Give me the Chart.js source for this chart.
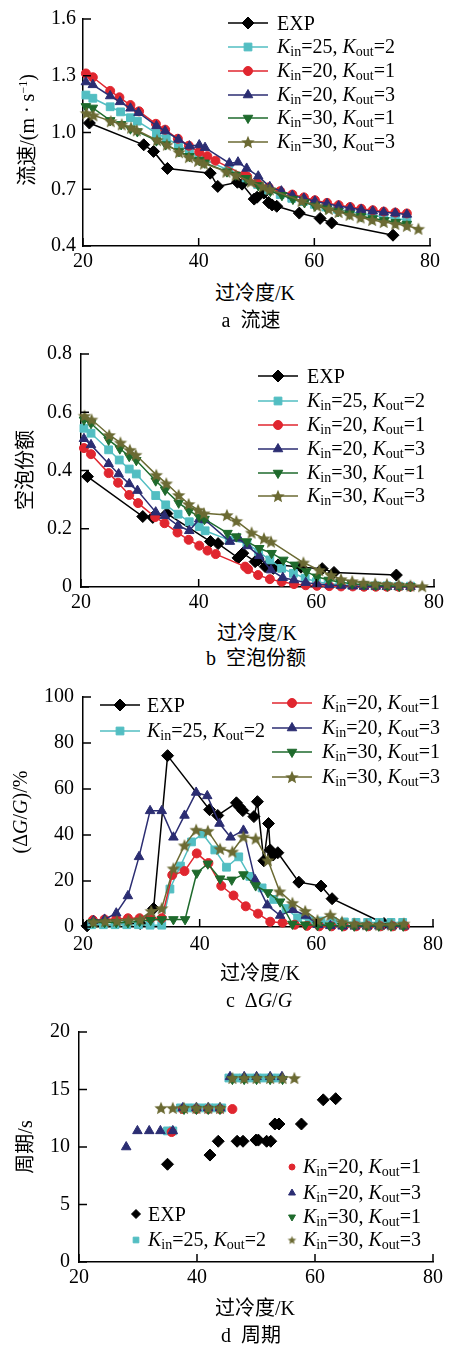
<!DOCTYPE html>
<html lang="zh">
<head>
<meta charset="utf-8">
<title>过冷度</title>
<script src="https://cdn.jsdelivr.net/npm/chart.js@4.4.1/dist/chart.umd.min.js"></script>
<style>
  html, body { margin: 0; padding: 0; background: #fff; }
  body { position: relative; width: 449px; height: 1347px; overflow: hidden;
         font-family: "Liberation Serif", "Noto Sans CJK SC", serif; color: #000; }
  canvas { position: absolute; left: 0; }
  .txt { position: absolute; font-size: 20px; line-height: 1; white-space: nowrap; transform: translate(-50%, -50%); }
  .ytl { transform: translate(-50%, -50%) rotate(-90deg); }
  .leg { position: absolute; font-size: 20px; line-height: 20px; white-space: nowrap; transform: translateY(-50%); }
  .leg .s { font-size: 14px; position: relative; top: 3px; }
  sup { font-size: 12px; }
</style>
</head>
<body>
<canvas id="ca" width="449" height="280" style="top:0px"></canvas>
<canvas id="cb" width="449" height="290" style="top:330px"></canvas>
<canvas id="cc" width="449" height="300" style="top:670px"></canvas>
<canvas id="cd" width="449" height="290" style="top:1010px"></canvas>

<div class="txt ytl" style="left:27px;top:130px">流速/(m · s<sup>−1</sup>)</div>
<div class="txt" style="left:255px;top:293px">过冷度/K</div>
<div class="txt" style="left:251px;top:320px">a&ensp;流速</div>

<div class="txt ytl" style="left:25px;top:470px">空泡份额</div>
<div class="txt" style="left:257px;top:633px">过冷度/K</div>
<div class="txt" style="left:256px;top:658px">b&ensp;空泡份额</div>

<div class="txt ytl" style="left:20px;top:812px">(Δ<i>G</i>/<i>G</i>)/%</div>
<div class="txt" style="left:260px;top:973px">过冷度/K</div>
<div class="txt" style="left:259px;top:1000px">c&ensp;Δ<i>G</i>/<i>G</i></div>

<div class="txt ytl" style="left:25px;top:1147px">周期/s</div>
<div class="txt" style="left:255px;top:1308px">过冷度/K</div>
<div class="txt" style="left:251px;top:1335px">d&ensp;周期</div>

<script>
Chart.defaults.font.family = '"Liberation Serif", "Times New Roman", serif';

// ---- axes ----
const X_TICKS = [20, 40, 60, 80];
const X_LABELS = ['20', '40', '60', '80'];
const A_TICKS = [0.4, 0.7, 1.0, 1.3, 1.6];
const A_LABELS = ['0.4', '0.7', '1.0', '1.3', '1.6'];
const B_TICKS = [0, 0.2, 0.4, 0.6, 0.8];
const B_LABELS = ['0', '0.2', '0.4', '0.6', '0.8'];
const C_TICKS = [0, 20, 40, 60, 80, 100];
const C_LABELS = ['0', '20', '40', '60', '80', '100'];
const D_TICKS = [0, 5, 10, 15, 20];
const D_LABELS = ['0', '5', '10', '15', '20'];

// ---- legend names (K_in / K_out) ----
const KIN = [25, 20, 20, 30, 30];
const KOUT = [2, 1, 3, 1, 3];

// ---- a 流速 / b 空泡份额 (same subcooling points) ----
const EXP_X = [21.1, 30.5, 32.2, 34.6, 42.0, 43.3, 46.7, 47.5, 49.6, 50.1, 51.3, 52.1, 52.7, 53.5, 57.4, 61.0, 63.0, 73.6];
const EXP_V = [1.05, 0.935, 0.90, 0.81, 0.785, 0.715, 0.737, 0.727, 0.648, 0.658, 0.68, 0.63, 0.617, 0.61, 0.574, 0.546, 0.522, 0.457];
const EXP_A = [0.379, 0.242, 0.239, 0.252, 0.156, 0.149, 0.10, 0.116, 0.087, 0.093, 0.07, 0.075, 0.064, 0.076, 0.068, 0.063, 0.05, 0.041];

const CYAN_X = [20.5, 21.7, 24.7, 26.5, 28.2, 29.4, 32.7, 34.4, 36.5, 38.4, 40.1, 41.1, 45.2, 48.2, 50.2, 52.1, 54.1, 56.1, 58.1, 60.0, 62.0, 64.0, 66.0, 68.0, 70.0, 72.0, 74.0, 76.0];
const CYAN_V = [1.198, 1.181, 1.136, 1.109, 1.078, 1.06, 0.996, 0.969, 0.935, 0.902, 0.87, 0.857, 0.8, 0.76, 0.725, 0.695, 0.672, 0.652, 0.635, 0.62, 0.606, 0.594, 0.583, 0.572, 0.562, 0.553, 0.545, 0.537];
const CYAN_A = [0.545, 0.528, 0.471, 0.436, 0.405, 0.388, 0.314, 0.282, 0.25, 0.224, 0.207, 0.193, 0.161, 0.15, 0.121, 0.093, 0.064, 0.047, 0.03, 0.018, 0.012, 0.008, 0.006, 0.005, 0.004, 0.004, 0.003, 0.003];

const RED_X = [20.5, 21.7, 24.7, 26.3, 28.2, 29.7, 32.6, 34.2, 36.4, 38.3, 40.1, 41.5, 42.9, 47.9, 48.4, 50.1, 52.1, 54.1, 56.2, 58.2, 60.1, 62.2, 64.2, 66.2, 68.1, 70.1, 72.0, 74.0, 76.0];
const RED_V = [1.312, 1.292, 1.22, 1.186, 1.145, 1.112, 1.046, 1.015, 0.967, 0.93, 0.897, 0.875, 0.851, 0.775, 0.767, 0.733, 0.71, 0.69, 0.672, 0.657, 0.642, 0.628, 0.616, 0.606, 0.597, 0.589, 0.582, 0.577, 0.572];
const RED_A = [0.477, 0.456, 0.391, 0.358, 0.316, 0.288, 0.24, 0.219, 0.187, 0.162, 0.142, 0.125, 0.113, 0.07, 0.061, 0.041, 0.027, 0.018, 0.01, 0.006, 0.004, 0.003, 0.002, 0.002, 0.001, 0.001, 0.001, 0.001, 0.001];

const BLUE_X = [20.5, 21.7, 24.7, 26.4, 28.2, 29.6, 32.7, 34.2, 36.5, 38.4, 40.1, 41.1, 45.3, 46.8, 48.3, 50.3, 52.3, 54.3, 56.2, 58.2, 60.1, 62.2, 64.2, 66.2, 68.1, 70.1, 72.0, 74.0, 76.0];
const BLUE_V = [1.267, 1.252, 1.193, 1.162, 1.128, 1.105, 1.035, 1.008, 0.963, 0.928, 0.934, 0.92, 0.838, 0.843, 0.81, 0.769, 0.713, 0.69, 0.667, 0.652, 0.637, 0.623, 0.611, 0.601, 0.592, 0.584, 0.578, 0.573, 0.567];
const BLUE_A = [0.509, 0.488, 0.423, 0.388, 0.354, 0.331, 0.257, 0.245, 0.211, 0.193, 0.233, 0.23, 0.156, 0.167, 0.141, 0.107, 0.058, 0.032, 0.024, 0.015, 0.01, 0.007, 0.005, 0.003, 0.002, 0.002, 0.001, 0.001, 0.001];

const GREEN_X = [20.5, 21.7, 24.7, 26.6, 28.2, 29.4, 32.7, 34.3, 36.6, 38.4, 40.1, 41.0, 44.9, 46.4, 48.2, 50.3, 52.4, 54.4, 56.3, 58.3, 60.1, 62.1, 64.1, 66.1, 68.1, 70.1, 72.1, 74.1, 76.0];
const GREEN_V = [1.138, 1.13, 1.064, 1.043, 1.02, 1.005, 0.957, 0.936, 0.9, 0.874, 0.853, 0.84, 0.793, 0.776, 0.758, 0.72, 0.69, 0.668, 0.648, 0.63, 0.612, 0.597, 0.583, 0.57, 0.557, 0.545, 0.535, 0.525, 0.516];
const GREEN_A = [0.574, 0.562, 0.505, 0.475, 0.449, 0.435, 0.365, 0.333, 0.289, 0.262, 0.24, 0.233, 0.185, 0.173, 0.156, 0.133, 0.116, 0.093, 0.076, 0.053, 0.035, 0.024, 0.016, 0.011, 0.008, 0.006, 0.004, 0.003, 0.002];

const STAR_X = [20.6, 21.8, 24.8, 26.7, 28.3, 29.3, 32.8, 34.5, 36.6, 38.3, 39.9, 40.9, 44.8, 46.4, 49.0, 51.1, 52.3, 57.8, 60.5, 62.5, 64.2, 66.1, 68.0, 70.0, 72.0, 74.0, 76.0, 78.0];
const STAR_V = [1.103, 1.091, 1.06, 1.043, 1.026, 1.012, 0.96, 0.936, 0.896, 0.87, 0.85, 0.836, 0.793, 0.775, 0.74, 0.715, 0.70, 0.638, 0.613, 0.596, 0.58, 0.565, 0.551, 0.538, 0.527, 0.517, 0.507, 0.491];
const STAR_A = [0.588, 0.575, 0.522, 0.496, 0.471, 0.454, 0.385, 0.356, 0.316, 0.285, 0.265, 0.253, 0.247, 0.227, 0.187, 0.167, 0.156, 0.084, 0.058, 0.041, 0.027, 0.02, 0.015, 0.012, 0.01, 0.008, 0.005, 0.003];

// ---- c ΔG/G (%) ----
const EXP_C_X = [20.7, 29.8, 32.1, 34.5, 41.7, 43.1, 46.3, 46.8, 47.4, 49.3, 49.9, 51.0, 51.8, 52.1, 52.6, 53.4, 57.0, 60.8, 62.7, 71.6];
const EXP_C = [0.5, 1.5, 8, 74.5, 51, 48.5, 54, 52.3, 50.6, 48, 54.5, 28.8, 45, 33.5, 31.3, 32.3, 19.5, 17.8, 12.3, 1.5];
const CYAN_C_X = [21.5, 23.5, 25.5, 27.5, 29.5, 31.5, 33.5, 34.9, 36.7, 38.6, 40.5, 42.6, 44.6, 46.7, 48.6, 50.7, 52.7, 54.8, 56.8, 58.8, 60.8, 62.8, 64.8, 66.8, 68.8, 70.8, 72.8, 74.8];
const CYAN_C = [1, 1, 1, 1, 1, 0.8, 0.8, 16.5, 26.5, 37, 40.5, 33.5, 26, 30.5, 22, 17, 12, 8, 4, 3, 2.6, 2.5, 2.2, 2, 2, 2, 2, 2];
const RED_C_X = [21.7, 23.7, 25.7, 27.7, 29.7, 31.6, 33.5, 35.3, 37.4, 39.5, 41.5, 43.7, 45.8, 47.9, 50.0, 52.1, 54.2, 56.3, 58.4, 60.5, 62.6, 64.7, 66.8, 68.9, 71.0, 73.1, 75.2];
const RED_C = [3, 3.3, 3.5, 3.8, 3.8, 3.8, 3.8, 22.6, 24.3, 32, 27.8, 17.9, 13.7, 9, 5.8, 2.3, 1.9, 1, 0.5, 0.3, 0.3, 0.3, 0.3, 0.3, 0.3, 0.3, 0.3];
const BLUE_C_X = [21.8, 23.7, 25.7, 27.7, 29.6, 31.5, 33.5, 35.5, 37.4, 39.4, 41.3, 43.4, 45.3, 47.5, 49.5, 51.6, 53.8, 56.0, 58.2, 60.3, 62.4, 64.5, 66.6, 68.7, 70.8, 72.9, 75.0];
const BLUE_C = [2.7, 3.3, 6, 13.5, 30.5, 50.5, 50.5, 39, 48.5, 58.5, 57, 45, 39, 42, 20.5, 9.5, 5, 7.5, 5, 1, 0.5, 0.3, 0.3, 0.3, 0.3, 0.3, 0.3];
const GREEN_C_X = [21.7, 23.7, 25.7, 27.7, 29.7, 31.6, 33.5, 35.5, 37.5, 39.5, 41.4, 43.5, 45.5, 47.5, 49.6, 51.7, 53.8, 55.9, 58.1, 60.2, 62.3, 64.4, 66.5, 68.6, 70.7, 72.8, 74.9];
const GREEN_C = [2, 2, 2, 2, 2.5, 3, 3.3, 3.3, 3.3, 23.5, 27.5, 21, 20.5, 22.8, 18, 15, 11, 1.3, 1, 0.8, 0.6, 0.5, 0.5, 0.5, 0.5, 0.5, 0.5];
const STAR_C_X = [21.8, 23.8, 25.8, 27.8, 29.8, 31.7, 33.5, 35.5, 37.4, 39.4, 41.4, 43.5, 45.6, 47.5, 49.6, 51.7, 53.7, 55.9, 58.1, 60.2, 62.4, 64.4, 66.5, 68.6, 70.8, 72.9, 75.0];
const STAR_C = [2.2, 2.5, 2.7, 3, 3.3, 7, 8.2, 25.5, 35.5, 42.3, 41.8, 34, 32.8, 39.3, 38.5, 29, 15.5, 10.5, 7, 3, 5.3, 2.3, 1.5, 1.2, 1, 1, 1.5];

// ---- d 周期 (s) ----
const EXP_D_X = [35.0, 42.2, 43.6, 46.8, 47.8, 50.0, 50.4, 51.8, 52.5, 53.2, 53.9, 57.7, 61.4, 63.5];
const EXP_D = [8.5, 9.3, 10.5, 10.5, 10.5, 10.6, 10.6, 10.5, 10.5, 12, 12, 12, 14.1, 14.2];
const CYAN_D_X = [35.0, 35.9, 37.2, 38.4, 39.6, 40.8, 42.0, 43.2, 44.2, 45.4, 46.6, 47.8, 49.0, 50.2, 51.4, 52.6, 53.8];
const CYAN_D = [11.4, 11.4, 13.4, 13.4, 13.4, 13.4, 13.4, 13.4, 13.4, 16, 16, 16, 16, 16, 16, 16, 16];
const RED_D_X = [35.7, 37.6, 39.9, 41.9, 43.9, 46.0];
const RED_D = [11.3, 13.3, 13.3, 13.3, 13.3, 13.3];
const BLUE_D_X = [28.0, 29.9, 31.9, 33.8, 35.9, 37.6, 39.9, 41.9, 43.9, 45.6, 48.0, 50.1, 52.4, 54.4];
const BLUE_D = [10, 11.4, 11.4, 11.4, 11.4, 13.4, 13.4, 13.4, 13.4, 16.1, 16.1, 16.1, 16.1, 16.1];
const GREEN_D_X = [37.8, 39.9, 41.9, 43.9, 46.0, 48.0, 50.1, 52.4, 54.5];
const GREEN_D = [13.3, 13.3, 13.3, 13.3, 15.9, 15.9, 15.9, 15.9, 15.9];
const STAR_D_X = [33.9, 35.9, 37.8, 39.9, 41.9, 43.9, 46.0, 48.0, 50.1, 52.4, 54.5, 56.5];
const STAR_D = [13.4, 13.4, 13.4, 13.4, 13.4, 13.4, 16, 16, 16, 16, 16, 16];

// 五角星点样式
function starImage(color, r) {
  const c = document.createElement('canvas');
  const s = Math.ceil(r * 2 + 2);
  c.width = c.height = s;
  const g = c.getContext('2d');
  g.fillStyle = color;
  g.beginPath();
  for (let i = 0; i < 10; i++) {
    const rr = i % 2 ? r * 0.45 : r;
    const a = -Math.PI / 2 + i * Math.PI / 5;
    g.lineTo(s / 2 + rr * Math.cos(a), s / 2 + rr * Math.sin(a) + r * 0.1);
  }
  g.closePath();
  g.fill();
  return c;
}

const OLIVE = '#6B6A33';
const SMALL_STAR = starImage(OLIVE, 4.5);

// 0 EXP, 1 cyan, 2 red, 3 blue, 4 green, 5 olive
const STYLES = [
  { color: '#000000', pointStyle: 'rectRot', radius: 6, rotation: 0 },
  { color: '#52BEC2', pointStyle: 'rect', radius: 5.5, rotation: 0 },
  { color: '#E0262F', pointStyle: 'circle', radius: 4.5, rotation: 0 },
  { color: '#2B2D72', pointStyle: 'triangle', radius: 5.5, rotation: 0 },
  { color: '#1E6A2C', pointStyle: 'triangle', radius: 5.5, rotation: 180 },
  { color: OLIVE, pointStyle: starImage(OLIVE, 7), radius: 7, rotation: 0 }
];

function pts(xs, ys) {
  return xs.map((x, i) => ({ x: x, y: ys[i] }));
}

function legendHtml(k) {
  if (k === 0) return 'EXP';
  return '<i>K</i><span class="s">in</span>=' + KIN[k - 1] + ', <i>K</i><span class="s">out</span>=' + KOUT[k - 1];
}

// 刻度朝内
const innerTicks = {
  id: 'innerTicks',
  afterDraw(chart) {
    const { ctx, chartArea: a, scales } = chart;
    ctx.save();
    ctx.strokeStyle = '#000';
    ctx.lineWidth = 1.5;
    scales.x.ticks.forEach(t => {
      const px = scales.x.getPixelForValue(t.value);
      ctx.beginPath(); ctx.moveTo(px, a.bottom); ctx.lineTo(px, a.bottom - 8); ctx.stroke();
    });
    scales.y.ticks.forEach(t => {
      const py = scales.y.getPixelForValue(t.value);
      ctx.beginPath(); ctx.moveTo(a.left, py); ctx.lineTo(a.left + 8, py); ctx.stroke();
    });
    ctx.restore();
  }
};

// 图例符号 (文字用 HTML)
function swatchPlugin(items, top, withLine) {
  return {
    id: 'swatches',
    afterDraw(chart) {
      const ctx = chart.ctx;
      items.forEach(it => {
        const st = STYLES[it.k];
        const y = it.y - top;
        ctx.save();
        ctx.strokeStyle = st.color;
        ctx.fillStyle = st.color;
        if (withLine) {
          ctx.lineWidth = 1.5;
          ctx.beginPath(); ctx.moveTo(it.x - 20, y); ctx.lineTo(it.x + 20, y); ctx.stroke();
        }
        ctx.lineWidth = 1;
        let ps = st.pointStyle;
        if (!withLine && typeof ps !== 'string') ps = SMALL_STAR;
        Chart.helpers.drawPoint(ctx, {
          pointStyle: ps, rotation: st.rotation,
          radius: withLine ? st.radius : st.radius - 1.5, borderWidth: 1
        }, it.x, y);
        ctx.restore();
      });
    }
  };
}

function addLegendText(items) {
  items.forEach(it => {
    const d = document.createElement('div');
    d.className = 'leg';
    d.style.left = it.tx + 'px';
    d.style.top = it.y + 'px';
    d.innerHTML = legendHtml(it.k);
    document.body.appendChild(d);
  });
}

function buildChart(id, top, height, area, yRange, yTicks, yLabels, yPad, xPad, series, legend, withLine) {
  const datasets = series.map(s => {
    const st = STYLES[s.k];
    return {
      data: pts(s.xs, s.ys),
      showLine: withLine,
      borderColor: st.color,
      backgroundColor: st.color,
      borderWidth: 1.5,
      pointStyle: st.pointStyle,
      pointRotation: st.rotation,
      pointRadius: st.radius,
      pointBorderWidth: 1,
      pointBorderColor: st.color,
      pointBackgroundColor: st.color,
      clip: false,
      order: 10 - s.k
    };
  });
  const font = { family: '"Liberation Serif", "Times New Roman", serif', size: 20 };
  new Chart(document.getElementById(id), {
    type: 'scatter',
    data: { datasets },
    plugins: [innerTicks, swatchPlugin(legend, top, withLine)],
    options: {
      responsive: false,
      animation: false,
      devicePixelRatio: 1,
      events: [],
      layout: { padding: { left: 0, right: 449 - area.right, top: area.top, bottom: 0 } },
      plugins: { legend: { display: false }, tooltip: { enabled: false } },
      scales: {
        x: {
          type: 'linear', min: 20, max: 80,
          grid: { display: false, drawTicks: false },
          border: { display: true, color: '#000', width: 1.5 },
          ticks: { padding: xPad, font, color: '#000', maxRotation: 0, autoSkip: false,
                   callback: (v, i) => X_LABELS[i] },
          afterBuildTicks: s => { s.ticks = X_TICKS.map(v => ({ value: v })); },
          afterFit: s => { s.height = height - area.bottom; }
        },
        y: {
          type: 'linear', min: yRange[0], max: yRange[1],
          grid: { display: false, drawTicks: false },
          border: { display: true, color: '#000', width: 1.5 },
          ticks: { padding: yPad, font, color: '#000', autoSkip: false,
                   callback: (v, i) => yLabels[i] },
          afterBuildTicks: s => { s.ticks = yTicks.map(v => ({ value: v })); },
          afterFit: s => { s.width = area.left; }
        }
      }
    }
  });
  addLegendText(legend);
}

// a 流速
buildChart('ca', 0, 280, { left: 83, right: 430, top: 14, bottom: 246 }, [0.4, 1.6], A_TICKS, A_LABELS, 7, 4, [
  { k: 0, xs: EXP_X, ys: EXP_V },
  { k: 1, xs: CYAN_X, ys: CYAN_V },
  { k: 2, xs: RED_X, ys: RED_V },
  { k: 3, xs: BLUE_X, ys: BLUE_V },
  { k: 4, xs: GREEN_X, ys: GREEN_V },
  { k: 5, xs: STAR_X, ys: STAR_V }
], [
  { k: 0, x: 248, y: 23, tx: 277 },
  { k: 1, x: 248, y: 47, tx: 277 },
  { k: 2, x: 248, y: 71, tx: 277 },
  { k: 3, x: 248, y: 95, tx: 277 },
  { k: 4, x: 248, y: 118, tx: 277 },
  { k: 5, x: 248, y: 142, tx: 277 }
], true);

// b 空泡份额
buildChart('cb', 330, 290, { left: 81, right: 434, top: 24, bottom: 257 }, [0, 0.8], B_TICKS, B_LABELS, 9, 4, [
  { k: 0, xs: EXP_X, ys: EXP_A },
  { k: 1, xs: CYAN_X, ys: CYAN_A },
  { k: 2, xs: RED_X, ys: RED_A },
  { k: 3, xs: BLUE_X, ys: BLUE_A },
  { k: 4, xs: GREEN_X, ys: GREEN_A },
  { k: 5, xs: STAR_X, ys: STAR_A }
], [
  { k: 0, x: 278, y: 376, tx: 307 },
  { k: 1, x: 278, y: 401, tx: 307 },
  { k: 2, x: 278, y: 425, tx: 307 },
  { k: 3, x: 278, y: 449, tx: 307 },
  { k: 4, x: 278, y: 473, tx: 307 },
  { k: 5, x: 278, y: 496, tx: 307 }
], true);

// c ΔG/G
buildChart('cc', 670, 300, { left: 83, right: 437, top: 27, bottom: 257 }, [0, 100], C_TICKS, C_LABELS, 9, 6, [
  { k: 0, xs: EXP_C_X, ys: EXP_C },
  { k: 1, xs: CYAN_C_X, ys: CYAN_C },
  { k: 2, xs: RED_C_X, ys: RED_C },
  { k: 3, xs: BLUE_C_X, ys: BLUE_C },
  { k: 4, xs: GREEN_C_X, ys: GREEN_C },
  { k: 5, xs: STAR_C_X, ys: STAR_C }
], [
  { k: 0, x: 120, y: 705, tx: 147 },
  { k: 1, x: 120, y: 731, tx: 147 },
  { k: 2, x: 292, y: 703, tx: 322 },
  { k: 3, x: 292, y: 728, tx: 322 },
  { k: 4, x: 292, y: 752, tx: 322 },
  { k: 5, x: 292, y: 777, tx: 322 }
], true);

// d 周期
buildChart('cd', 1010, 290, { left: 79, right: 433, top: 22, bottom: 252 }, [0, 20], D_TICKS, D_LABELS, 9, 4, [
  { k: 0, xs: EXP_D_X, ys: EXP_D },
  { k: 1, xs: CYAN_D_X, ys: CYAN_D },
  { k: 2, xs: RED_D_X, ys: RED_D },
  { k: 3, xs: BLUE_D_X, ys: BLUE_D },
  { k: 4, xs: GREEN_D_X, ys: GREEN_D },
  { k: 5, xs: STAR_D_X, ys: STAR_D }
], [
  { k: 0, x: 136, y: 1214, tx: 148 },
  { k: 1, x: 136, y: 1240, tx: 148 },
  { k: 2, x: 292, y: 1167, tx: 303 },
  { k: 3, x: 292, y: 1193, tx: 303 },
  { k: 4, x: 292, y: 1217, tx: 303 },
  { k: 5, x: 292, y: 1240, tx: 303 }
], false);
</script>
</body>
</html>
